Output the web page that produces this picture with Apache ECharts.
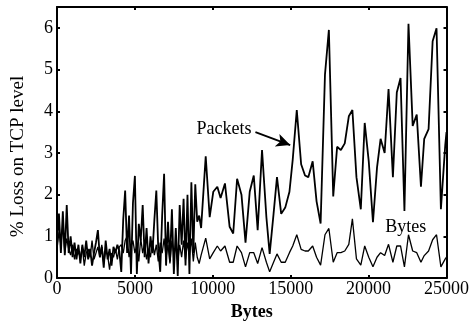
<!DOCTYPE html>
<html>
<head>
<meta charset="utf-8">
<script src="https://cdn.jsdelivr.net/npm/echarts@6/dist/echarts.min.js"></script>
<style>
  html, body { margin: 0; padding: 0; background: #fff; }
  #chart { width: 472px; height: 326px; }
</style>
</head>
<body>
<div id="chart"></div>
<script>
// Posições em bytes (eixo x)
const bytesX = [
    0, 125, 250, 375, 500, 625, 750, 875, 1000, 1125,
    1250, 1375, 1500, 1625, 1750, 1875, 2000, 2125, 2250, 2375,
    2500, 2625, 2750, 2875, 3000, 3125, 3250, 3375, 3500, 3625,
    3750, 3875, 4000, 4125, 4250, 4375, 4500, 4625, 4750, 4875,
    5000, 5125, 5250, 5375, 5500, 5625, 5750, 5875, 6000, 6125,
    6250, 6375, 6500, 6625, 6750, 6875, 7000, 7125, 7250, 7375,
    7500, 7625, 7750, 7875, 8000, 8125, 8250, 8375, 8500, 8625,
    8750, 8875, 9000, 9125, 9250,
    9545, 9800, 10030, 10290, 10500, 10780, 11080, 11310, 11560, 11840,
    12100, 12370, 12630, 12880, 13160, 13440, 13650, 13900, 14120, 14390,
    14650, 14920, 15130, 15390, 15670, 15920, 16130, 16410, 16660, 16920,
    17200, 17450, 17730, 17980, 18220, 18470, 18730, 18960, 19220, 19500,
    19750, 20010, 20280, 20540, 20770, 21030, 21280, 21560, 21810, 22050,
    22300, 22560, 22830, 23090, 23360, 23570, 23850, 24110, 24360, 24640,
    24920, 25000
];

// % de perda contada em pacotes
const perdaPacotes = [
    0.8, 1.55, 0.6, 1.6, 0.55, 1.75, 0.6, 1.0, 0.5, 0.85,
    0.45, 0.8, 0.35, 0.8, 0.5, 0.9, 0.45, 0.7, 0.3, 0.6,
    0.85, 1.15, 0.5, 0.75, 0.25, 0.9, 0.45, 0.7, 0.3, 0.75,
    0.6, 0.8, 0.65, 0.15, 1.4, 2.1, 0.6, 1.5, 0.1, 1.8,
    2.45, 0.1, 1.3, 0.9, 1.75, 0.5, 1.2, 0.35, 1.0, 0.6,
    1.4, 2.1, 0.7, 0.15, 1.5, 2.5, 0.3, 1.35, 0.4, 1.65,
    0.1, 1.2, 0.05, 1.75, 0.8, 1.9, 0.3, 2.0, 0.1, 2.3,
    0.6, 2.25, 1.35, 1.5, 1.2,
    2.92, 1.46, 2.07, 2.19, 1.92, 2.27, 1.23, 1.07, 2.38, 2.0,
    0.85, 2.07, 2.46, 1.15, 3.07, 1.46, 0.58, 1.54, 2.42, 1.54,
    1.69, 2.07, 2.84, 4.03, 2.73, 2.46, 2.42, 2.80, 1.84, 1.31,
    4.88, 5.95, 1.96, 3.15, 3.07, 3.23, 3.88, 4.03, 2.42, 1.65,
    3.72, 2.80, 1.34, 2.65, 3.34, 3.0, 4.53, 2.42, 4.45, 4.80,
    1.61, 6.10, 3.65, 3.92, 2.19, 3.34, 3.57, 5.68, 5.99, 1.65,
    3.19, 3.5
];

// % de perda contada em bytes
const perdaBytes = [
    0.7, 1.1, 0.8, 1.25, 0.6, 0.95, 0.7, 0.55, 0.8, 0.45,
    0.7, 0.6, 0.5, 0.75, 0.3, 0.6, 0.7, 0.5, 0.9, 0.45,
    0.6, 0.75, 0.5, 0.8, 0.35, 0.65, 0.55, 0.2, 0.6, 0.5,
    0.7, 0.45, 0.75, 0.8, 0.6, 0.9, 1.0, 0.5, 0.75, 0.9,
    0.6, 0.8, 0.4, 0.95, 0.6, 0.85, 0.45, 0.7, 0.5, 0.9,
    0.55, 0.8, 0.4, 0.85, 0.6, 0.95, 0.5, 0.8, 0.35, 0.9,
    0.6, 0.75, 0.4, 0.8, 0.5, 0.9, 0.45, 0.85, 0.55, 0.95,
    0.4, 0.85, 0.5, 0.35, 0.55,
    0.96, 0.46, 0.61, 0.77, 0.65, 0.77, 0.38, 0.38, 0.77, 0.61,
    0.27, 0.61, 0.61, 0.35, 0.73, 0.38, 0.15, 0.38, 0.58, 0.38,
    0.38, 0.61, 0.77, 1.04, 0.69, 0.65, 0.65, 0.77, 0.5, 0.31,
    1.04, 1.19, 0.38, 0.61, 0.61, 0.65, 0.81, 1.42, 0.46, 0.31,
    0.77, 0.50, 0.27, 0.50, 0.61, 0.54, 0.81, 0.38, 0.77, 0.77,
    0.27, 1.04, 0.65, 0.61, 0.38, 0.54, 0.65, 0.92, 1.04, 0.27,
    0.46, 0.5
];

// Anotações (coordenadas de dados)
const rotuloPacotes = { texto: "Packets", x: 10714, y: 3.57 };
const setaPacotes = { de: [12736, 3.50], para: [14968, 3.19] };
const rotuloBytes = { texto: "Bytes", x: 22385, y: 1.22 };

const fonte = "Liberation Serif";

const eixoX = {
    type: 'value',
    min: 0,
    max: 25000,
    interval: 5000,
    axisLine: { show: true, onZero: false, lineStyle: { color: '#000', width: 2 } },
    axisTick: { show: true, inside: true, length: 3, lineStyle: { color: '#000', width: 2 } },
    splitLine: { show: false }
};

const eixoY = {
    type: 'value',
    min: 0,
    max: 6.5,
    interval: 1,
    axisLine: { show: true, onZero: false, lineStyle: { color: '#000', width: 2 } },
    axisTick: { show: true, inside: true, length: 3, lineStyle: { color: '#000', width: 2 } },
    splitLine: { show: false }
};

const chart = echarts.init(document.getElementById("chart"), null, { renderer: 'canvas' });
chart.setOption({
    animation: false,
    backgroundColor: '#fff',
    grid: { left: 57, right: 23, top: 7, bottom: 36 },
    xAxis: [
        Object.assign({}, eixoX, {
            position: 'bottom',
            name: 'Bytes',
            nameLocation: 'middle',
            nameGap: 22,
            nameTextStyle: { fontFamily: fonte, fontSize: 18, fontWeight: 'bold', color: '#000' },
            axisLabel: {
                fontFamily: fonte, fontSize: 18, color: '#000', margin: 2,
                formatter: v => String(v)
            }
        }),
        Object.assign({}, eixoX, { position: 'top', axisLabel: { show: false } })
    ],
    yAxis: [
        Object.assign({}, eixoY, {
            position: 'left',
            name: '% Loss on TCP level',
            nameLocation: 'middle',
            nameGap: 29,
            nameTextStyle: {
                fontFamily: fonte, fontSize: 19, color: '#000',
                padding: [0, 28, 0, 0]
            },
            axisLabel: {
                fontFamily: fonte, fontSize: 18, color: '#000', margin: 4,
                formatter: v => (v % 1 === 0 ? String(v) : '')
            }
        }),
        Object.assign({}, eixoY, { position: 'right', axisLabel: { show: false } })
    ],
    series: [
        {
            type: 'line',
            name: 'Bytes',
            data: bytesX.map((x, i) => [x, perdaBytes[i]]),
            showSymbol: false,
            lineStyle: { color: '#000', width: 1.3 },
            markPoint: {
                symbol: 'circle',
                symbolSize: 0,
                label: {
                    show: true, position: 'inside', formatter: rotuloBytes.texto,
                    fontFamily: fonte, fontSize: 18, color: '#000'
                },
                data: [{ coord: [rotuloBytes.x, rotuloBytes.y] }]
            }
        },
        {
            type: 'line',
            name: 'Packets',
            data: bytesX.map((x, i) => [x, perdaPacotes[i]]),
            showSymbol: false,
            lineStyle: { color: '#000', width: 1.8 },
            markPoint: {
                symbol: 'circle',
                symbolSize: 0,
                label: {
                    show: true, position: 'inside', formatter: rotuloPacotes.texto,
                    fontFamily: fonte, fontSize: 18, color: '#000'
                },
                data: [{ coord: [rotuloPacotes.x, rotuloPacotes.y] }]
            },
            markLine: {
                silent: true,
                symbol: ['none', 'arrow'],
                symbolSize: [10, 14],
                label: { show: false },
                lineStyle: { color: '#000', width: 1.8, type: 'solid' },
                data: [[{ coord: setaPacotes.de }, { coord: setaPacotes.para }]]
            }
        }
    ]
});
</script>
</body>
</html>
